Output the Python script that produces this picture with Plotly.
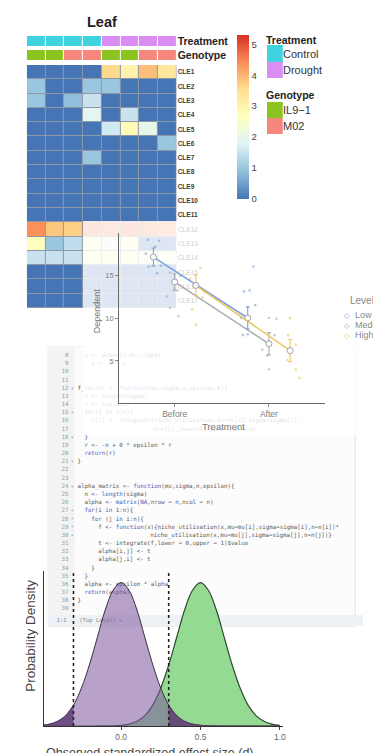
import re
import plotly.graph_objects as go

W, H = 381, 753
def px(x): return x / W
def py(y): return 1 - y / H

SANS = "Liberation Sans, Arial, sans-serif"
MONO = "DejaVu Sans Mono, monospace"

# ---------------- data : heatmap ----------------
genes = ["CLE1", "CLE2", "CLE3", "CLE4", "CLE5", "CLE6", "CLE7", "CLE8", "CLE9",
         "CLE10", "CLE11", "CLE12", "CLE13", "CLE14", "CLE15", "CLE16", "CLE17"]
samples = ["S1", "S2", "S3", "S4", "S5", "S6", "S7", "S8"]
treatment = ["Control", "Control", "Control", "Control", "Drought", "Drought", "Drought", "Drought"]
genotype = ["IL9-1", "IL9-1", "M02", "M02", "IL9-1", "IL9-1", "M02", "M02"]
expression = [
    [0, 0, 0, 0, 3.6, 3.0, 3.9, 3.3],
    [1.0, 0, 0, 1.0, 1.0, 0, 0, 0],
    [1.0, 0, 0.9, 1.5, 0, 0, 0, 0],
    [0, 0, 0, 1.9, 0, 1.5, 0, 0],
    [0, 0, 0, 0, 1.6, 2.8, 2.0, 0],
    [0, 0, 0, 0, 0, 0, 0, 1.0],
    [0, 0, 0, 1.0, 0, 0, 0, 0],
    [0, 0, 0, 0, 0, 0, 0, 0],
    [0, 0, 0, 0, 0, 0, 0, 0],
    [0, 0, 0, 0, 0, 0, 0, 0],
    [0, 0, 0, 0, 0, 0, 0, 0],
    [4.4, 3.8, 3.7, 4.6, 4.5, 4.6, 4.5, 4.4],
    [2.7, 1.0, 1.4, 2.8, 1.9, 2.6, 0, 0],
    [1.5, 1.5, 1.5, 2.6, 2.6, 2.7, 2.3, 2.2],
    [0, 0, 0, 0, 0, 0, 0, 0],
    [0, 0, 0, 0, 0, 0, 0, 0],
    [0, 0, 0, 0, 0, 0, 0, 0],
]
color_max = 5.3
categories = ["Control", "Drought", "IL9-1", "M02"]
category_labels = ["Control", "Drought", "IL9\u22121", "M02"]
category_colors = ["#3fd3df", "#da8df2", "#8cc41f", "#f6877d"]

# ---------------- data : interaction plot ----------------
timepoints = ["Before", "After"]
levels = ["Low", "Medium", "High"]
level_means = {"Low": [17.1, 10.0], "Medium": [14.2, 7.0], "High": [13.8, 6.2]}
level_err = {"Low": [1.05, 1.3], "Medium": [0.95, 1.3], "High": [1.2, 1.3]}
raw_obs = {
    "Low": [[19.1, 19.0, 16.0, 16.1, 17.5, 18.3, 15.2], [16.0, 13.1, 13.2, 10.0, 8.0, 8.1, 11.5]],
    "Medium": [[15.3, 14.9, 13.2, 11.2, 10.2, 12.5], [10.0, 9.9, 5.6, 4.0, 8.0, 6.3]],
    "High": [[15.8, 14.6, 12.4, 11.0, 9.2, 13.0], [10.0, 8.0, 6.9, 5.1, 4.0, 3.0]],
}
raw_jitter = {
    "Low": [[-0.06, 0.06, -0.05, 0.08, -0.08, 0.02, 0.04], [0.06, -0.04, 0.02, -0.07, -0.05, 0.0, 0.08]],
    "Medium": [[-0.05, 0.06, 0.03, -0.05, 0.04, -0.08], [0.0, 0.08, -0.02, 0.0, 0.06, -0.07]],
    "High": [[0.05, -0.06, 0.07, -0.04, 0.0, 0.09], [0.0, -0.02, 0.06, -0.03, 0.06, 0.1]],
}

# ---------------- data : power / density plot ----------------
effect_d = [-0.50, -0.45, -0.40, -0.35, -0.30, -0.25, -0.20, -0.15, -0.10, -0.05, 0.00,
            0.05, 0.10, 0.15, 0.20, 0.25, 0.30, 0.35, 0.40, 0.45, 0.50, 0.55, 0.60,
            0.65, 0.70, 0.75, 0.80, 0.85, 0.90, 0.95, 1.00]
null_density = [0.0125, 0.035, 0.086, 0.19, 0.38, 0.69, 1.11, 1.61, 2.11, 2.47, 2.61,
                2.47, 2.11, 1.61, 1.11, 0.69, 0.38, 0.19, 0.086, 0.035, 0.0125, 0.004, 0.001,
                0.0, 0.0, 0.0, 0.0, 0.0, 0.0, 0.0, 0.0]
alt_density = [0.0, 0.0, 0.0, 0.0, 0.0, 0.0, 0.0, 0.001, 0.001, 0.004, 0.0125,
               0.035, 0.086, 0.19, 0.38, 0.69, 1.11, 1.61, 2.11, 2.47, 2.61, 2.47, 2.11,
               1.61, 1.11, 0.69, 0.38, 0.19, 0.086, 0.035, 0.0125]
critical_d = [-0.3, 0.3]

# ---------------- data : code screenshot ----------------
code_lines = [
    (8, "  u <- dnorm(x,mu,sigma)"),
    (9, "    u <- n * u"),
    (10, ""),
    (11, ""),
    (12, "f_vector <- function(mu,sigma,n,epsilon,K){"),
    (13, "  n <- length(sigma)"),
    (14, "  r <- rep(0,n)"),
    (15, "  for(i in 1:n){"),
    (16, "    r[i] <- integrate(niche_utilisation,mu=mu[i],sigma=sigma[i],"),
    (17, "                      n=n[i],lower=0,upper=1)$value"),
    (18, "  }"),
    (19, "  r <- -n + 0 * epsilon * r"),
    (20, "  return(r)"),
    (21, "}"),
    (22, ""),
    (23, ""),
    (24, "alpha_matrix <- function(mu,sigma,n,epsilon){"),
    (25, "  n <- length(sigma)"),
    (26, "  alpha <- matrix(NA,nrow = n,ncol = n)"),
    (27, "  for(i in 1:n){"),
    (28, "    for (j in i:n){"),
    (29, "      f <- function(x){niche_utilisation(x,mu=mu[i],sigma=sigma[i],n=n[i])*"),
    (30, "                     niche_utilisation(x,mu=mu[j],sigma=sigma[j],n=n[j])}"),
    (31, "      t <- integrate(f,lower = 0,upper = 1)$value"),
    (32, "      alpha[i,j] <- t"),
    (33, "      alpha[j,i] <- t"),
    (34, "    }"),
    (35, "  }"),
    (36, "  alpha <- epsilon * alpha"),
    (37, "  return(alpha)"),
    (38, "}"),
    (39, ""),
]
fold_lines = [12, 15, 18, 21, 24, 27, 28, 29, 30]
status_text = ["1:1", "(Top Level) \u00f7"]

# ---------------- figure ----------------
fig = go.Figure()

rdylbu = [[0, "#4575b4"], [1 / 6, "#91bfdb"], [2 / 6, "#e0f3f8"], [3 / 6, "#ffffbf"],
          [4 / 6, "#fee090"], [5 / 6, "#fc8d59"], [1, "#d73027"]]
cat_scale = []
for i, c in enumerate(category_colors):
    cat_scale += [[i / 4, c], [(i + 1) / 4, c]]

# 1) main heatmap
fig.add_trace(go.Heatmap(
    z=expression, x=list(range(len(samples))), y=list(range(len(genes))),
    colorscale=rdylbu, zmin=0, zmax=color_max, xgap=1, ygap=1,
    xaxis="x", yaxis="y", hoverinfo="skip",
    colorbar=dict(x=px(231), xanchor="left", xpad=0, y=py(27), yanchor="top", ypad=0,
                  len=164, lenmode="pixels", thickness=12, outlinewidth=0,
                  tickvals=[0, 1, 2, 3, 4, 5], ticks="",
                  tickfont=dict(size=9.5, color="#444", family=SANS)),
))

# 2) annotation bars
code_of = {c: i for i, c in enumerate(categories)}
fig.add_trace(go.Heatmap(
    z=[[code_of[t] for t in treatment], [code_of[g] for g in genotype]],
    x=list(range(len(samples))), y=[0, 1],
    colorscale=cat_scale, zmin=-0.5, zmax=3.5, showscale=False, xgap=1, ygap=4,
    xaxis="x2", yaxis="y2", hoverinfo="skip"))

# 3) legend swatches for annotation colours
fig.add_trace(go.Heatmap(
    z=[[0], [1], [None], [2], [3]], x=[0, 1], y=[37, 53.5, 70, 94, 110, 126],
    colorscale=cat_scale, zmin=-0.5, zmax=3.5, showscale=False,
    xaxis="x3", yaxis="y3", hoverinfo="skip"))

# 4) code screenshot
def esc(s):
    s = s.replace("&", "&amp;").replace("<", "&lt;").replace(">", "&gt;")
    return re.sub(r"\b(function|for|in|return|NA|length|matrix)\b",
                  lambda m: "<span style='color:#3f63c8'>" + m.group(1) + "</span>", s)

cl = [c for c in code_lines if c[1].strip()]
fig.add_trace(go.Scatter(
    x=[len(s) - len(s.lstrip()) for _, s in cl], y=[n for n, _ in cl],
    text=[esc(s.strip()) for _, s in cl], mode="text", textposition="middle right",
    textfont=dict(family=MONO, size=5.8, color="#5a5a5a"),
    xaxis="x4", yaxis="y4", hoverinfo="skip", cliponaxis=True))
fig.add_trace(go.Scatter(
    x=[-2.6] * len(code_lines), y=[n for n, _ in code_lines],
    text=[str(n) for n, _ in code_lines], mode="text", textposition="middle left",
    textfont=dict(family=MONO, size=5.8, color="#9a9a9a"),
    xaxis="x4", yaxis="y4", hoverinfo="skip"))
fig.add_trace(go.Scatter(
    x=[-1.9] * len(fold_lines), y=fold_lines, text=["\u25be"] * len(fold_lines),
    mode="text", textposition="middle right",
    textfont=dict(family=MONO, size=5, color="#9a9a9a"),
    xaxis="x4", yaxis="y4", hoverinfo="skip"))
fig.add_trace(go.Scatter(
    x=[-6.0, 0.5], y=[40.45, 40.45], text=status_text, mode="text",
    textposition="middle right", textfont=dict(family=MONO, size=5.6, color="#8a8a8a"),
    xaxis="x4", yaxis="y4", hoverinfo="skip"))

# 5) translucent white panel of the pasted interaction plot
fig.add_trace(go.Heatmap(
    z=[[1]], x=[0], y=[0], colorscale=[[0, "white"], [1, "white"]], showscale=False,
    opacity=0.82, xaxis="x5", yaxis="y5", hoverinfo="skip"))

# 6) interaction plot
level_colors = {"Low": "#6f98dc", "Medium": "#a2a2aa", "High": "#e9c150"}
dodge = {"Low": -0.225, "Medium": 0.0, "High": 0.225}
for lv in levels:
    xs, ys = [], []
    for ti in range(len(timepoints)):
        for v, j in zip(raw_obs[lv][ti], raw_jitter[lv][ti]):
            xs.append(ti + dodge[lv] + j)
            ys.append(v)
    fig.add_trace(go.Scatter(
        x=xs, y=ys, mode="markers", xaxis="x6", yaxis="y6", hoverinfo="skip",
        marker=dict(size=2.6, color=level_colors[lv]), opacity=0.55))
for lv in levels:
    fig.add_trace(go.Scatter(
        x=[ti + dodge[lv] for ti in range(len(timepoints))], y=level_means[lv],
        mode="lines+markers", xaxis="x6", yaxis="y6", hoverinfo="skip",
        line=dict(color=level_colors[lv], width=1.5),
        marker=dict(size=6, color="white", line=dict(color="#9b9ba3", width=1)),
        error_y=dict(type="data", array=level_err[lv], color=level_colors[lv],
                     thickness=1.1, width=2),
        opacity=0.9))

# 7) density plot
fig.add_trace(go.Scatter(
    x=effect_d, y=alt_density, mode="lines", line=dict(color="#2e4a2e", width=1.2, shape="spline"),
    fill="tozeroy", fillcolor="rgba(146,217,144,0.97)", xaxis="x7", yaxis="y7", hoverinfo="skip"))
fig.add_trace(go.Scatter(
    x=effect_d, y=null_density, mode="lines", line=dict(color="#3a3042", width=1.0, shape="spline"),
    fill="tozeroy", fillcolor="rgba(128,90,158,0.56)", xaxis="x7", yaxis="y7", hoverinfo="skip"))
left_tail = [(d, v) for d, v in zip(effect_d, null_density) if d <= critical_d[0] + 1e-9]
right_tail = [(d, v) for d, v in zip(effect_d, null_density) if d >= critical_d[1] - 1e-9]
for tail in (left_tail, right_tail):
    fig.add_trace(go.Scatter(
        x=[d for d, _ in tail], y=[v for _, v in tail], mode="lines",
        line=dict(color="#5a3c6a", width=0.8, shape="spline"), fill="tozeroy",
        fillcolor="rgba(98,64,116,0.85)", xaxis="x7", yaxis="y7", hoverinfo="skip"))
dens_top = 2.82
for c in critical_d:
    fig.add_trace(go.Scatter(
        x=[c, c], y=[0, dens_top], mode="lines", line=dict(color="#222", width=1.6, dash="dot"),
        xaxis="x7", yaxis="y7", hoverinfo="skip"))

# ---------------- shapes (backgrounds) ----------------
shapes = [
    dict(type="rect", xref="x", yref="y", x0=-0.5, x1=7.5, y0=-0.5, y1=16.5,
         fillcolor="#8f98a8", line=dict(width=0), layer="below"),
    dict(type="rect", xref="x4", yref="y4", x0=-8.57, x1=80.0, y0=6.82, y1=41.1,
         fillcolor="#fcfcfc", line=dict(color="#e2e2e2", width=1), layer="below"),
    dict(type="rect", xref="x4", yref="y4", x0=-8.57, x1=-0.8, y0=6.82, y1=39.8,
         fillcolor="#f3f3f3", line=dict(width=0), layer="below"),
    dict(type="rect", xref="x4", yref="y4", x0=-8.57, x1=82.3, y0=39.75, y1=41.1,
         fillcolor="#edf2f6", line=dict(width=0), layer="below"),
]

# ---------------- annotations ----------------
def ann(text, x, y, size, color="#333", bold=False, xanchor="center", angle=0):
    return dict(text=text, x=px(x), y=py(y), xref="paper", yref="paper", showarrow=False,
                xanchor=xanchor, yanchor="middle", textangle=angle, borderpad=0,
                font=dict(family=SANS, size=size, color=color, weight="bold" if bold else "normal"))

annotations = [
    ann("Leaf", 95, 14, 14.5, "#222", True),
    ann("Treatment", 259, 32, 10.5, "#222", True, "left"),
    ann("Genotype", 259, 87, 10.5, "#222", True, "left"),
    ann("Level", 344, 292, 10, "#8a8a8a", False, "left"),
    ann("Dependent", 90, 303, 9, "#777", False, "center", -90),
    ann("Treatment", 217, 419, 9.5, "#777"),
    ann("Probability Density", 22, 628, 13.5, "#444", False, "center", -90),
    ann("Observed standardized effect size (d)", 143, 745, 12.5, "#444"),
]
for lab, yy in zip(category_labels, [46, 62, 102, 118]):
    annotations.append(ann(lab, 276, yy, 11, "#333", False, "left"))
for lv, yy in zip(levels, [307, 317, 327]):
    annotations.append(ann("\u25c7", 342, yy, 7, level_colors[lv]))
    annotations.append(ann(lv, 349, yy, 9, "#8a8a8a", False, "left"))

# ---------------- axes ----------------
def hidden(domain, rng, anchor):
    return dict(domain=domain, range=rng, visible=False, anchor=anchor, fixedrange=True,
                showgrid=False, zeroline=False)

layout = dict(
    width=W, height=H, margin=dict(l=0, r=0, t=0, b=0),
    paper_bgcolor="white", plot_bgcolor="rgba(0,0,0,0)", showlegend=False,
    shapes=shapes, annotations=annotations, font=dict(family=SANS),
    xaxis=hidden([px(19), px(170)], [-0.5, 7.5], "y"),
    yaxis=dict(domain=[py(300), py(57)], range=[16.5, -0.5], anchor="x", side="right",
               tickvals=list(range(len(genes))), ticktext=genes, ticks="", showline=False,
               showgrid=False, zeroline=False, fixedrange=True,
               tickfont=dict(size=6.5, color="#3a3a3a", family=SANS, weight="bold")),
    xaxis2=hidden([px(19), px(170)], [-0.5, 7.5], "y2"),
    yaxis2=dict(domain=[py(54), py(26)], range=[1.5, -0.5], anchor="x2", side="right",
                tickvals=[0, 1], ticktext=["Treatment", "Genotype"], ticks="", showline=False,
                showgrid=False, zeroline=False, fixedrange=True,
                tickfont=dict(size=10.5, color="#222", family=SANS, weight="bold")),
    xaxis3=hidden([px(261), px(277)], [0, 1], "y3"),
    yaxis3=hidden([py(126), py(37)], [126, 37], "x3"),
    xaxis4=hidden([px(40), px(358)], [-8.571, 82.29], "y4"),
    yaxis4=hidden([py(620), py(338)], [41.33, 6.82], "x4"),
    xaxis5=hidden([px(75.5), 1.0], [-0.5, 0.5], "y5"),
    yaxis5=hidden([py(427), py(213)], [-0.5, 0.5], "x5"),
    xaxis6=dict(domain=[px(112), px(320)], range=[-0.589, 1.6], anchor="y6",
                tickvals=[0, 1], ticktext=timepoints, ticks="outside", ticklen=3,
                tickcolor="#888", showline=True, linecolor="#6a6a6a", linewidth=1,
                showgrid=False, zeroline=False, fixedrange=True,
                tickfont=dict(size=8.5, color="#808080", family=SANS)),
    yaxis6=dict(domain=[py(395), py(225)], range=[0.1, 19.9], anchor="x6",
                tickvals=[5, 10, 15], ticks="outside", ticklen=3, tickcolor="#888",
                showline=True, linecolor="#6a6a6a", linewidth=1, showgrid=False,
                zeroline=False, fixedrange=True,
                tickfont=dict(size=7.5, color="#808080", family=SANS)),
    xaxis7=dict(domain=[px(36), px(277)], range=[-0.4875, 1.019], anchor="y7",
                tickvals=[0, 0.5, 1], ticktext=["0.0", "0.5", "1.0"], ticks="outside",
                ticklen=3, tickcolor="#444", showline=True, linecolor="#333", linewidth=1,
                showgrid=False, zeroline=False, fixedrange=True,
                tickfont=dict(size=8.5, color="#666", family=SANS)),
    yaxis7=dict(domain=[py(718), py(563)], range=[0, dens_top], anchor="x7",
                showticklabels=False, ticks="", showline=True, linecolor="#333", linewidth=1,
                showgrid=False, zeroline=False, fixedrange=True),
)
fig.update_layout(**layout)
fig.write_html("out.html", config={"displayModeBar": False})
